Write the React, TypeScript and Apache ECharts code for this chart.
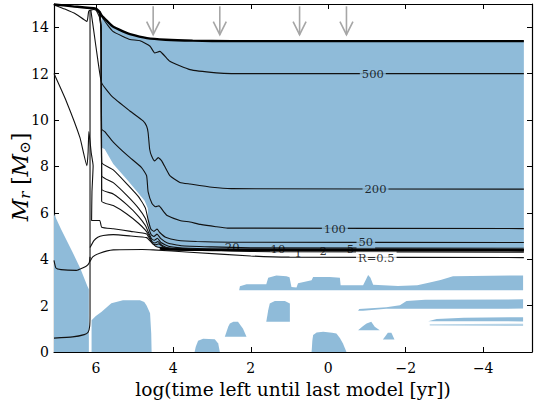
import React, { useEffect, useRef } from 'react';
import * as echarts from 'echarts';

// ---------- axes ----------
const X_MIN = -5.26;
const X_MAX = 7.08;
const Y_MIN = 0;
const Y_MAX = 15;
const X_TITLE = 'log(time left until last model [yr])';
const BLUE = '#8fbbd9';

// ---------- contour lines ----------
const massLine: number[][] = [[7.08,14.98],[6.6,14.9],[6.0,14.8],[5.9,14.65],[5.85,14.5],[5.7,14.25],[5.56,14.03],[5.3,13.82],[5.12,13.7],[4.68,13.53],[4.2,13.46],[3.5,13.42],[2.5,13.4],[-5.05,13.4]];
const coreLine: number[][] = [[4.35,4.46],[4.1,4.42],[3.0,4.4],[-5.05,4.39]];
const r500: number[][] = [[7.08,14.96],[6.8,14.78],[6.5,14.55],[6.23,14.25],[6.18,14.7],[6.05,14.76],[5.95,14.68],[5.85,14.46],[5.7,14.1],[5.56,13.82],[5.3,13.6],[5.12,13.47],[4.86,13.42],[4.6,13.18],[4.48,12.89],[4.35,12.96],[4.09,12.53],[3.57,12.17],[2.89,12.03],[2.5,12.0],[-5.05,12.0]];
const r200: number[][] = [[6.13,14.75],[6.05,13.8],[5.95,12.6],[5.85,11.6],[5.59,11.03],[5.12,10.39],[4.78,9.96],[4.69,9.74],[4.65,9.45],[4.61,8.74],[4.56,8.45],[4.48,8.24],[4.39,8.38],[4.3,8.24],[4.09,7.6],[3.83,7.31],[3.57,7.24],[3.0,7.1],[2.5,7.04],[-5.05,7.02]];
const r100: number[][] = [[6.0,14.76],[5.9,14.4],[5.86,13.5],[5.85,9.6],[5.77,9.5],[5.55,9.05],[5.17,8.45],[4.82,7.95],[4.69,7.6],[4.65,6.9],[4.55,6.4],[4.46,6.26],[4.37,6.3],[4.25,6.05],[4.16,5.88],[3.83,5.67],[3.57,5.6],[3.3,5.5],[2.9,5.4],[2.6,5.34],[-5.05,5.32]];
const r50: number[][] = [[5.92,14.7],[5.87,14.0],[5.85,8.17],[5.55,7.85],[5.2,7.25],[4.9,6.7],[4.72,6.2],[4.65,5.7],[4.58,5.3],[4.5,5.2],[4.42,5.3],[4.35,5.15],[4.2,4.95],[3.9,4.82],[3.4,4.76],[2.5,4.73],[-5.05,4.72]];
const r20: number[][] = [[5.9,14.68],[5.86,13.9],[5.85,7.6],[5.55,7.3],[5.2,6.75],[4.9,6.2],[4.72,5.75],[4.65,5.4],[4.57,5.05],[4.5,4.98],[4.42,5.08],[4.33,4.9],[4.15,4.7],[3.8,4.58],[3.0,4.53],[2.0,4.49],[-5.05,4.47]];
const r10: number[][] = [[5.9,14.66],[5.86,13.8],[5.85,7.02],[5.55,6.81],[5.2,6.35],[4.9,5.85],[4.72,5.45],[4.64,5.15],[4.56,4.88],[4.49,4.82],[4.41,4.9],[4.32,4.72],[4.1,4.55],[3.6,4.47],[2.5,4.44],[-5.05,4.42]];
const r5: number[][] = [[5.89,14.64],[5.86,13.7],[5.85,6.5],[5.55,6.31],[5.2,5.95],[4.9,5.55],[4.72,5.25],[4.62,5.0],[4.55,4.76],[4.47,4.7],[4.4,4.76],[4.3,4.6],[4.1,4.47],[3.5,4.42],[-5.05,4.4]];
const r2: number[][] = [[7.08,12.0],[6.76,10.8],[6.41,9.24],[6.23,8.03],[6.2,8.6],[6.18,9.5],[6.12,8.6],[6.07,8.03],[6.1,6.9],[6.11,5.67],[5.9,5.67],[5.85,5.38],[5.55,5.31],[5.1,5.2],[4.69,5.09],[4.6,4.85],[4.53,4.66],[4.45,4.62],[4.37,4.66],[4.25,4.5],[4.0,4.42],[3.0,4.37],[-5.05,4.35]];
const r1: number[][] = [[6.15,4.5],[6.05,4.8],[5.95,4.95],[5.81,5.02],[5.55,5.06],[5.1,5.0],[4.69,4.93],[4.55,4.7],[4.45,4.55],[4.3,4.5],[3.57,4.44],[2.5,4.36],[1.5,4.32],[-5.05,4.3]];
const r05: number[][] = [[6.15,3.9],[6.08,4.1],[5.9,4.26],[5.55,4.4],[4.8,4.42],[4.52,4.4],[3.57,4.3],[2.0,4.14],[1.0,4.09],[-5.05,4.07]];
const bottomLine: number[][] = [[7.08,0.6],[6.6,0.65],[6.3,0.75],[6.2,0.85],[6.16,1.1],[6.15,1.6],[6.15,14.72]];
const lowLeftLine: number[][] = [[7.08,3.95],[7.03,3.62],[6.9,3.55],[6.5,3.52],[6.25,3.7],[6.17,3.85],[6.15,4.1]];

const thinLines = [r500, r200, r100, r50, r20, r10, r5, r2, r1, r05, bottomLine, lowLeftLine];
const thickLines = [massLine, coreLine];

// ---------- contour labels ----------
const labelText = ['500', '200', '100', '50', '20', '10', '5', '2', '1', 'R=0.5'];
const labelX = [-1.15, -1.22, -0.17, -0.97, 2.48, 1.3, -0.57, 0.13, 0.78, -1.24];
const labelY = [12.0, 7.02, 5.32, 4.73, 4.53, 4.42, 4.43, 4.35, 4.28, 4.06];
const labelBg = ['blue', 'blue', 'blue', 'blue', 'none', 'none', 'none', 'none', 'none', 'white'];

// ---------- convective (blue) regions ----------
const envelope: number[][] = [[5.85,14.45],[5.7,14.22],[5.56,14.0],[5.3,13.8],[5.12,13.68],[4.68,13.52],[4.2,13.45],[3.5,13.41],[2.5,13.4],[-5.05,13.4],[-5.05,4.45],[4.2,4.45],[4.4,4.5],[4.55,4.7],[4.63,5.1],[4.66,6.2],[4.74,6.52],[5.17,7.38],[5.55,8.1],[5.77,8.74],[5.85,8.81]];
const leftCore: number[][] = [[7.08,0],[7.08,5.95],[6.9,5.3],[6.6,4.3],[6.4,3.6],[6.22,2.85],[6.18,2.7],[6.18,0]];
const coreHump: number[][] = [[6.11,0],[6.11,1.37],[6.0,1.55],[5.85,1.73],[5.6,2.1],[5.3,2.23],[4.86,2.23],[4.75,2.15],[4.69,2.0],[4.6,1.67],[4.57,0.8],[4.56,0]];
const hump1: number[][] = [[3.45,0],[3.42,0.23],[3.36,0.49],[3.23,0.57],[2.93,0.55],[2.84,0.37],[2.8,0]];
const hump2: number[][] = [[2.67,0.66],[2.58,1.1],[2.54,1.23],[2.45,1.3],[2.33,1.3],[2.2,1.0],[2.11,0.66]];
const hump3: number[][] = [[1.6,1.3],[1.55,1.8],[1.51,2.09],[1.38,2.2],[1.12,2.2],[0.99,2.09],[0.99,1.3]];
const hump4: number[][] = [[0.43,0],[0.41,0.5],[0.39,0.73],[0.3,0.84],[0.13,0.87],[-0.1,0.83],[-0.21,0.8],[-0.3,0.6],[-0.38,0.37],[-0.47,0]];
const hump5: number[][] = [[-0.77,0.94],[-0.9,1.12],[-0.99,1.23],[-1.11,1.3],[-1.2,1.09],[-1.33,0.94]];
const hump6: number[][] = [[-1.41,0.54],[-1.54,0.83],[-1.63,0.83],[-1.71,0.54]];
const bandA: number[][] = [[2.3,2.66],[2.28,2.83],[2.11,2.92],[1.6,2.92],[1.55,3.2],[1.34,3.3],[1.08,3.26],[1.0,3.22],[0.95,2.8],[0.82,2.78],[0.78,2.96],[0.43,3.09],[0.39,3.23],[-0.04,3.23],[-0.3,3.2],[-0.32,2.88],[-0.9,2.88],[-0.98,3.15],[-1.03,3.32],[-1.09,3.2],[-1.16,2.9],[-1.8,2.85],[-2.3,2.88],[-2.62,3.0],[-2.9,3.1],[-3.22,3.27],[-5.03,3.3],[-5.03,2.66]];
const bandB: number[][] = [[-0.77,1.78],[-0.8,1.85],[-1.5,1.93],[-1.85,2.02],[-2.02,2.2],[-2.5,2.25],[-5.03,2.27],[-5.03,1.87],[-1.5,1.86],[-0.9,1.78]];
const bandC: number[][] = [[-2.58,1.33],[-2.8,1.42],[-3.5,1.48],[-5.03,1.5],[-5.03,1.32]];
const bandD: number[][] = [[-2.62,1.14],[-2.62,1.2],[-5.03,1.22],[-5.03,1.12]];
const blueRegions = [envelope, leftCore, coreHump, hump1, hump2, hump3, hump4, hump5, hump6, bandA, bandB, bandC, bandD];

// ---------- arrows ----------
const arrowTimes = [4.52, 2.8, 0.74, -0.47];
const ARROW_TOP = 14.9;
const ARROW_BOTTOM = 13.68;

const SERIF = 'DejaVu Serif';

function fmtTick(v: number): string {
  if (Math.abs(v - Math.round(v)) > 1e-6 || Math.round(v) % 2 !== 0) return '';
  return v < 0 ? '\u2212' + String(-v) : String(v);
}

export default function App() {
  const ref = useRef<HTMLDivElement>(null);
  useEffect(() => {
    document.body.style.margin = '0';
    const chart = echarts.init(ref.current!, null, { renderer: 'svg' });
    const axisLine = { show: true, onZero: false, lineStyle: { color: '#000', width: 1.2 } };
    const axisTick = { show: true, inside: true, length: 5, lineStyle: { color: '#000', width: 1 } };
    const series: any[] = [];
    series.push({
      type: 'custom',
      coordinateSystem: 'cartesian2d',
      silent: true,
      z: 1,
      clip: true,
      data: blueRegions.map((p, i) => [p[0][0], p[0][1], i]),
      encode: { x: 0, y: 1 },
      renderItem: (params: any, api: any) => {
        const poly = blueRegions[params.dataIndex];
        return {
          type: 'polygon',
          shape: { points: poly.map((pt) => api.coord(pt)) },
          style: { fill: BLUE, opacity: poly === bandD ? 0.65 : 1 },
        };
      },
    });
    thinLines.forEach((l) => {
      series.push({
        type: 'line', data: l, showSymbol: false, silent: true, z: 3, smooth: 0.15,
        lineStyle: { color: '#111', width: 1.1 },
      });
    });
    thickLines.forEach((l) => {
      series.push({
        type: 'line', data: l, showSymbol: false, silent: true, z: 4, smooth: 0.15,
        lineStyle: { color: '#000', width: 2.4 },
      });
    });
    series.push({
      type: 'scatter',
      symbolSize: 0,
      z: 5,
      silent: true,
      data: labelText.map((t, i) => ({
        value: [labelX[i], labelY[i]],
        label: {
          backgroundColor: labelBg[i] === 'blue' ? BLUE : labelBg[i] === 'white' ? '#fff' : 'transparent',
        },
      })),
      label: {
        show: true,
        position: 'inside',
        formatter: (p: any) => labelText[p.dataIndex],
        fontFamily: SERIF,
        fontSize: 11.5,
        color: '#000',
        padding: [0, 2, 0, 2],
      },
    });
    series.push({
      type: 'custom',
      coordinateSystem: 'cartesian2d',
      silent: true,
      z: 6,
      data: arrowTimes.map((t) => [t, ARROW_TOP]),
      encode: { x: 0, y: 1 },
      renderItem: (params: any, api: any) => {
        const t = arrowTimes[params.dataIndex];
        const a = api.coord([t, ARROW_TOP]);
        const b = api.coord([t, ARROW_BOTTOM]);
        const st = { stroke: '#a6a6a6', lineWidth: 1.6, fill: 'none' };
        return {
          type: 'group',
          children: [
            { type: 'line', shape: { x1: a[0], y1: a[1], x2: b[0], y2: b[1] }, style: st },
            { type: 'polyline', shape: { points: [[b[0] - 6.5, b[1] - 13], [b[0], b[1]], [b[0] + 6.5, b[1] - 13]] }, style: st },
          ],
        };
      },
    });

    chart.setOption({
      animation: false,
      grid: { left: 54, right: 4, top: 4, bottom: 50, containLabel: false, outerBoundsMode: 'none' },
      graphic: [
        {
          type: 'text',
          x: 20,
          y: 177,
          rotation: Math.PI / 2,
          silent: true,
          style: {
            text: '{i|M}{s|r}  {n|[}{i|M}{s|\u2299}{n|]}',
            align: 'center',
            verticalAlign: 'middle',
            fill: '#000',
            rich: {
              i: { fontFamily: SERIF, fontStyle: 'italic', fontSize: 22, fill: '#000' },
              n: { fontFamily: SERIF, fontSize: 22, fill: '#000' },
              s: { fontFamily: SERIF, fontStyle: 'italic', fontSize: 15, fill: '#000', padding: [10, 0, 0, 0] },
            },
          },
        },
      ],
      xAxis: [
        {
          type: 'value', min: X_MIN, max: X_MAX, inverse: true, position: 'bottom',
          axisLine, axisTick, splitLine: { show: false },
          axisLabel: { formatter: fmtTick, fontFamily: SERIF, fontSize: 14, color: '#000', margin: 9, showMinLabel: false, showMaxLabel: false },
          name: X_TITLE, nameLocation: 'middle', nameGap: 28,
          nameTextStyle: { fontFamily: SERIF, fontSize: 18.6, color: '#000' },
        },
        {
          type: 'value', min: X_MIN, max: X_MAX, inverse: true, position: 'top',
          axisLine, axisTick, splitLine: { show: false }, axisLabel: { show: false },
        },
      ],
      yAxis: [
        {
          type: 'value', min: Y_MIN, max: Y_MAX, interval: 2, position: 'left',
          axisLine, axisTick, splitLine: { show: false },
          axisLabel: { formatter: fmtTick, fontFamily: SERIF, fontSize: 14, color: '#000', margin: 5 },
        },
        {
          type: 'value', min: Y_MIN, max: Y_MAX, interval: 2, position: 'right',
          axisLine, axisTick, splitLine: { show: false }, axisLabel: { show: false },
        },
      ],
      series,
    });
    return () => chart.dispose();
  }, []);
  return <div ref={ref} style={{ width: 536, height: 402 }} />;
}
